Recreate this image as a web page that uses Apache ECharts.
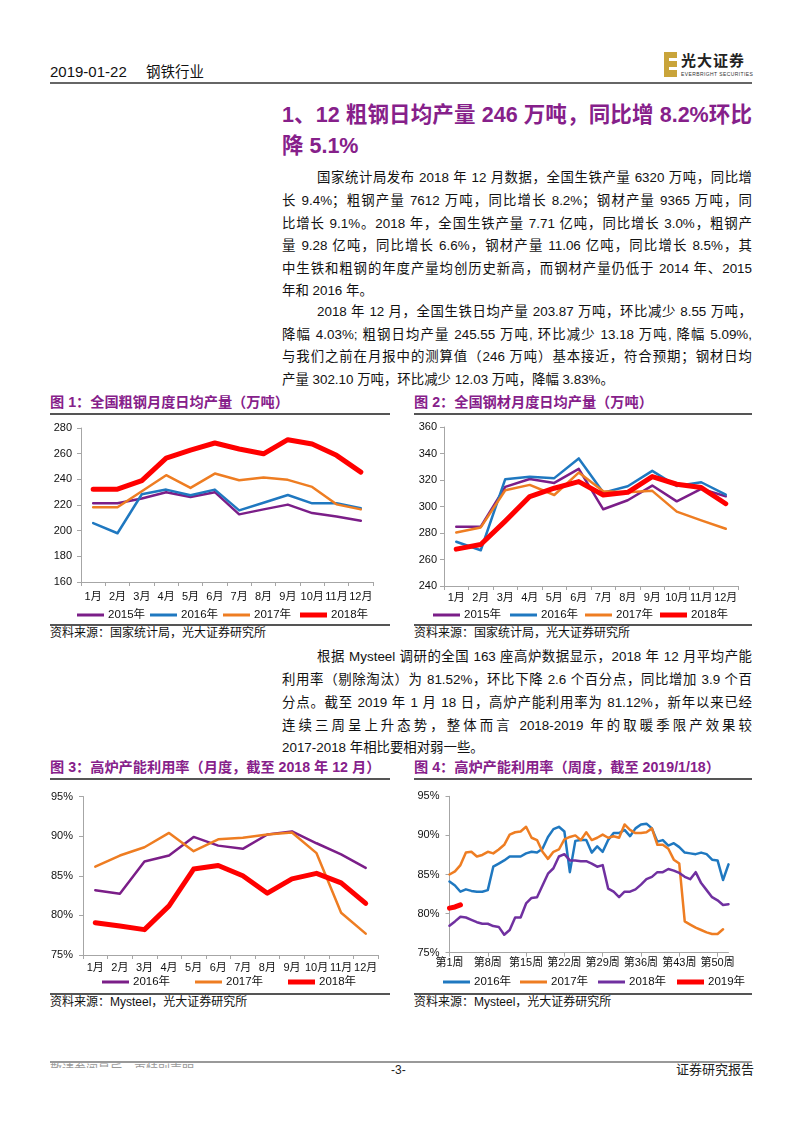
<!DOCTYPE html>
<html><head><meta charset="utf-8">
<script src="https://cdn.jsdelivr.net/npm/echarts@6/dist/echarts.min.js"></script>
<style>
html,body{margin:0;padding:0;background:#fff;}
body{width:802px;height:1133px;position:relative;overflow:hidden;font-family:"Liberation Sans","Noto Sans CJK SC",sans-serif;color:#111;}
.a{position:absolute;white-space:nowrap;}
.ln{position:absolute;font-size:13.4px;line-height:20px;height:20px;white-space:nowrap;overflow:visible;}
.j{text-align:justify;text-align-last:justify;}
.ft{position:absolute;font-size:14.2px;font-weight:bold;color:#86208A;line-height:18px;white-space:nowrap;}
.hr{position:absolute;background:#555;height:2px;}
.src{position:absolute;font-size:12px;line-height:16px;color:#111;white-space:nowrap;}
.ch{position:absolute;}
</style></head><body>

<!-- header -->
<div class="a" style="left:50px;top:63px;font-size:15px;line-height:18px;">2019-01-22</div>
<div class="a" style="left:146px;top:63px;font-size:14.5px;line-height:18px;">钢铁行业</div>
<div class="hr" style="left:50px;top:82px;width:702px;height:2px;background:#666;"></div>
<!-- logo -->
<div class="a" style="left:664px;top:52px;width:13px;height:25px;background:#C9A43A;"></div>
<div class="a" style="left:669px;top:58px;width:8px;height:3px;background:#fff;"></div>
<div class="a" style="left:669px;top:67px;width:8px;height:3px;background:#fff;"></div>
<div class="a" style="left:681px;top:52px;font-size:15px;line-height:18px;font-weight:bold;letter-spacing:1px;color:#222;">光大证券</div>
<div class="a" style="left:681px;top:71px;font-size:5px;line-height:6px;color:#333;letter-spacing:0.4px;">EVERBRIGHT SECURITIES</div>

<!-- section title -->
<div class="a j" style="left:282px;top:101px;width:470px;font-size:21.5px;line-height:28px;font-weight:bold;color:#86208A;">1、12 粗钢日均产量 246 万吨，同比增 8.2%环比</div>
<div class="a" style="left:282px;top:132px;font-size:21.5px;line-height:28px;font-weight:bold;color:#86208A;">降 5.1%</div>

<!-- paragraph 1 -->
<div class="ln j" style="left:317px;top:168px;width:435px;">国家统计局发布 2018 年 12 月数据，全国生铁产量 6320 万吨，同比增</div>
<div class="ln j" style="left:282px;top:191px;width:470px;">长 9.4%；粗钢产量 7612 万吨，同比增长 8.2%；钢材产量 9365 万吨，同</div>
<div class="ln j" style="left:282px;top:214px;width:470px;">比增长 9.1%。2018 年，全国生铁产量 7.71 亿吨，同比增长 3.0%，粗钢产</div>
<div class="ln j" style="left:282px;top:236px;width:470px;">量 9.28 亿吨，同比增长 6.6%，钢材产量 11.06 亿吨，同比增长 8.5%，其</div>
<div class="ln j" style="left:282px;top:259px;width:470px;">中生铁和粗钢的年度产量均创历史新高，而钢材产量仍低于 2014 年、2015</div>
<div class="ln" style="left:282px;top:281px;">年和 2016 年。</div>
<!-- paragraph 2 -->
<div class="ln j" style="left:317px;top:302px;width:435px;">2018 年 12 月，全国生铁日均产量 203.87 万吨，环比减少 8.55 万吨，</div>
<div class="ln j" style="left:282px;top:325px;width:470px;">降幅 4.03%; 粗钢日均产量 245.55 万吨, 环比减少 13.18 万吨, 降幅 5.09%,</div>
<div class="ln j" style="left:282px;top:347px;width:470px;">与我们之前在月报中的测算值（246 万吨）基本接近，符合预期；钢材日均</div>
<div class="ln" style="left:282px;top:370px;">产量 302.10 万吨，环比减少 12.03 万吨，降幅 3.83%。</div>

<!-- figure titles 1/2 -->
<div class="ft" style="left:50px;top:393px;">图 1：全国粗钢月度日均产量（万吨）</div>
<div class="ft" style="left:414px;top:393px;">图 2：全国钢材月度日均产量（万吨）</div>
<div class="hr" style="left:50px;top:413px;width:340px;"></div>
<div class="hr" style="left:414px;top:413px;width:338px;"></div>

<div id="c1" class="ch" style="left:40px;top:418px;width:350px;height:205px;"></div>
<div id="c2" class="ch" style="left:405px;top:418px;width:355px;height:205px;"></div>

<div class="hr" style="left:50px;top:624px;width:340px;"></div>
<div class="hr" style="left:414px;top:624px;width:338px;"></div>
<div class="src" style="left:50px;top:625px;">资料来源：国家统计局，光大证券研究所</div>
<div class="src" style="left:414px;top:625px;">资料来源：国家统计局，光大证券研究所</div>

<!-- paragraph 3 -->
<div class="ln j" style="left:317px;top:647px;width:435px;">根据 Mysteel 调研的全国 163 座高炉数据显示，2018 年 12 月平均产能</div>
<div class="ln j" style="left:282px;top:670px;width:470px;">利用率（剔除淘汰）为 81.52%，环比下降 2.6 个百分点，同比增加 3.9 个百</div>
<div class="ln j" style="left:282px;top:693px;width:470px;">分点。截至 2019 年 1 月 18 日，高炉产能利用率为 81.12%，新年以来已经</div>
<div class="ln j" style="left:282px;top:716px;width:470px;">连续三周呈上升态势，整体而言 2018-2019 年的取暖季限产效果较</div>
<div class="ln" style="left:282px;top:738px;">2017-2018 年相比要相对弱一些。</div>

<!-- figure titles 3/4 -->
<div class="ft" style="left:50px;top:758px;">图 3：高炉产能利用率（月度，截至 2018 年 12 月）</div>
<div class="ft" style="left:414px;top:758px;">图 4：高炉产能利用率（周度，截至 2019/1/18）</div>
<div class="hr" style="left:50px;top:778px;width:340px;"></div>
<div class="hr" style="left:414px;top:778px;width:338px;"></div>

<div id="c3" class="ch" style="left:40px;top:785px;width:350px;height:208px;"></div>
<div id="c4" class="ch" style="left:405px;top:785px;width:355px;height:208px;"></div>

<div class="hr" style="left:50px;top:993px;width:340px;"></div>
<div class="hr" style="left:414px;top:993px;width:338px;"></div>
<div class="src" style="left:50px;top:994px;">资料来源：Mysteel，光大证券研究所</div>
<div class="src" style="left:414px;top:994px;">资料来源：Mysteel，光大证券研究所</div>

<!-- footer -->
<div class="hr" style="left:50px;top:1061px;width:702px;height:1.5px;background:#999;"></div>
<div class="a" style="left:50px;top:1063px;height:5px;overflow:hidden;font-size:12px;line-height:14px;color:#999;">敬请参阅最后一页特别声明</div>
<div class="a" style="left:391px;top:1062px;font-size:12px;line-height:16px;color:#222;">-3-</div>
<div class="a" style="left:676px;top:1062px;font-size:13px;line-height:16px;color:#222;">证券研究报告</div>

<script>
// ---------------- data ----------------
var months = ['1月','2月','3月','4月','5月','6月','7月','8月','9月','10月','11月','12月'];

// 图1 全国粗钢月度日均产量（万吨）
var steel2015 = [221.3, 221.3, 225.0, 230.0, 226.3, 230.0, 212.7, 216.6, 220.3, 213.7, 211.0, 207.7];
var steel2016 = [205.9, 198.0, 228.4, 232.0, 227.6, 232.0, 215.8, 221.8, 227.8, 221.3, 221.3, 217.4];
var steel2017 = [218.2, 218.2, 230.7, 243.2, 233.3, 244.5, 239.3, 241.4, 239.6, 234.1, 220.5, 216.6];
var steel2018 = [232.3, 232.3, 239.0, 256.5, 262.8, 268.3, 263.6, 259.9, 270.9, 267.5, 258.7, 245.6];

// 图2 全国钢材月度日均产量（万吨）
var prod2015 = [284.7, 284.7, 314.8, 320.8, 317.8, 328.4, 297.9, 304.7, 315.8, 303.9, 313.3, 307.7];
var prod2016 = [273.4, 267.0, 320.6, 322.4, 321.4, 336.3, 310.5, 315.3, 326.9, 315.5, 318.3, 309.0];
var prod2017 = [280.4, 284.2, 312.3, 316.3, 308.7, 325.6, 311.5, 310.7, 311.8, 296.1, 289.5, 283.2];
var prod2018 = [267.8, 271.3, 289.0, 307.5, 313.8, 318.8, 308.7, 310.7, 322.6, 316.8, 314.3, 302.1];

// 图3 高炉产能利用率（月度, %）
var util2016 = [83.17, 82.74, 86.8, 87.55, 89.9, 88.8, 88.4, 90.2, 90.6, 89.1, 87.7, 86.0];
var util2017 = [86.15, 87.55, 88.6, 90.4, 88.1, 89.6, 89.8, 90.2, 90.45, 87.85, 80.34, 77.7];
var util2018 = [79.08, 78.65, 78.2, 81.2, 85.85, 86.3, 85.0, 82.8, 84.6, 85.3, 84.1, 81.52];

// 图4 高炉产能利用率（周度, %）
var weeks = [];
for (var i = 1; i <= 52; i++) weeks.push('第' + i + '周');
var wk2016 = [84.1, 83.6, 82.8, 83.1, 82.9, 82.8, 82.8, 83.0, 86.0, 86.4,
              86.8, 87.3, 87.3, 87.3, 87.7, 87.9, 87.8, 88.3, 89.8, 90.8,
              91.1, 90.5, 85.3, 89.3, 89.4, 89.4, 87.8, 88.6, 87.9, 89.4,
              90.3, 90.3, 90.7, 89.9, 90.9, 91.4, 91.5, 90.9, 89.2, 89.4,
              88.7, 89.0, 88.5, 87.8, 87.7, 87.6, 87.8, 87.6, 86.9, 86.8,
              84.3, 86.3];
var wk2017 = [85.0, 85.4, 86.2, 87.8, 87.9, 87.3, 87.5, 87.9, 87.7, 88.2,
              88.8, 90.1, 90.4, 90.5, 91.1, 89.7, 89.4, 87.9, 87.0, 87.9,
              88.2, 89.5, 89.8, 90.0, 89.4, 90.4, 89.4, 89.7, 90.1, 89.7,
              89.9, 89.7, 91.4, 90.7, 90.3, 90.3, 90.4, 90.9, 88.8, 88.8,
              88.3, 86.9, 86.4, 79.0, 78.6, 78.2, 77.9, 77.6, 77.4, 77.4,
              78.0];
var wk2018 = [78.45, 79.0, 79.6, 79.5, 79.2, 78.9, 78.7, 78.7, 78.4, 78.3,
              77.3, 77.9, 79.5, 79.5, 81.3, 82.0, 82.1, 83.6, 85.1, 85.8,
              87.3, 87.6, 86.8, 86.8, 86.7, 86.7, 86.4, 86.0, 86.2, 83.2,
              82.8, 82.1, 82.8, 82.8, 83.1, 83.7, 84.4, 84.7, 85.3, 85.3,
              85.7, 85.5, 85.2, 84.7, 84.4, 85.3, 83.9, 83.0, 82.1, 81.7,
              81.1, 81.2];
var wk2019 = [80.7, 80.85, 81.12];

// ---------------- styling helpers ----------------
var FONT = '"Liberation Sans","Noto Sans CJK SC",sans-serif';
var PURPLE = '#7B1E88', BLUE = '#1F78C0', ORANGE = '#EE7D22', RED = '#FF0000', VIOLET = '#7030A0';
var AXC = '#A6A6A6';

function line(name, data, color, width) {
  return { name: name, type: 'line', data: data, symbol: 'none', showSymbol: false,
           lineStyle: { color: color, width: width, cap: 'round', join: 'round' },
           itemStyle: { color: color }, emphasis: { disabled: true }, animation: false };
}
function leg(name, left, top, h) {
  return { data: [name], left: left, top: top, icon: 'rect', itemWidth: 27, itemHeight: h,
           itemGap: 0, padding: 0, selectedMode: false,
           textStyle: { fontFamily: FONT, fontSize: 11.5, color: '#111', lineHeight: 14, padding: [0, 0, 0, -1] } };
}
function xAx(cats, margin, opts) {
  var a = { type: 'category', data: cats, boundaryGap: true,
    axisLine: { lineStyle: { color: AXC, width: 1 } },
    axisTick: { show: true, length: 4, lineStyle: { color: AXC } },
    axisLabel: { fontFamily: FONT, fontSize: 11, color: '#111', margin: margin, interval: 0 },
    splitLine: { show: false } };
  for (var k in (opts || {})) a[k] = opts[k];
  return a;
}
function yAx(min, max, step, margin, pct) {
  return { type: 'value', min: min, max: max, interval: step,
    axisLine: { show: true, lineStyle: { color: AXC, width: 1 } },
    axisTick: { show: true, length: 4, lineStyle: { color: AXC } },
    axisLabel: { fontFamily: FONT, fontSize: 11, color: '#111', margin: margin,
                 formatter: pct ? '{value}%' : '{value}' },
    splitLine: { show: false } };
}

// 图1
var c1 = echarts.init(document.getElementById('c1'), null, { renderer: 'canvas' });
c1.setOption({
  animation: false,
  grid: { left: 41, top: 10, width: 292, height: 154 },
  xAxis: xAx(months, 9),
  yAxis: yAx(160, 280, 20, 9),
  legend: [leg('2015年', 37, 190, 3), leg('2016年', 110, 190, 3), leg('2017年', 183, 190, 3), leg('2018年', 260, 190, 5)],
  series: [line('2015年', steel2015, PURPLE, 2.5), line('2016年', steel2016, BLUE, 2.5),
           line('2017年', steel2017, ORANGE, 2.5), line('2018年', steel2018, RED, 5)]
});

// 图2
var c2 = echarts.init(document.getElementById('c2'), null, { renderer: 'canvas' });
c2.setOption({
  animation: false,
  grid: { left: 39, top: 9, width: 294, height: 159 },
  xAxis: xAx(months, 6),
  yAxis: yAx(240, 360, 20, 7),
  legend: [leg('2015年', 28, 190, 3), leg('2016年', 105, 190, 3), leg('2017年', 180, 190, 3), leg('2018年', 255, 190, 5)],
  series: [line('2015年', prod2015, PURPLE, 2.5), line('2016年', prod2016, BLUE, 2.5),
           line('2017年', prod2017, ORANGE, 2.5), line('2018年', prod2018, RED, 5)]
});

// 图3
var c3 = echarts.init(document.getElementById('c3'), null, { renderer: 'canvas' });
c3.setOption({
  animation: false,
  grid: { left: 43, top: 11.5, width: 295, height: 158.5 },
  xAxis: xAx(months, 7),
  yAxis: yAx(75, 95, 5, 10, true),
  legend: [leg('2016年', 62, 190, 3), leg('2017年', 155, 190, 3), leg('2018年', 248, 190, 5)],
  series: [line('2016年', util2016, PURPLE, 2.5), line('2017年', util2017, ORANGE, 2.5),
           line('2018年', util2018, RED, 5)]
});

// 图4
var c4 = echarts.init(document.getElementById('c4'), null, { renderer: 'canvas' });
c4.setOption({
  animation: false,
  grid: { left: 44.5, top: 11.3, width: 279, height: 156.4 },
  xAxis: xAx(weeks, 5, { boundaryGap: false,
    axisTick: { show: true, length: 4, interval: 6, lineStyle: { color: AXC } },
    axisLabel: { fontFamily: FONT, fontSize: 11, color: '#111', margin: 5, interval: 6 } }),
  yAxis: yAx(75, 95, 5, 10, true),
  legend: [leg('2016年', 38, 190, 3), leg('2017年', 115, 190, 3), leg('2018年', 193, 190, 3), leg('2019年', 272, 190, 5)],
  series: [line('2016年', wk2016, BLUE, 2.5), line('2017年', wk2017, ORANGE, 2.5),
           line('2018年', wk2018, VIOLET, 2.5), line('2019年', wk2019, RED, 5)]
});

// keep justified lines within their boxes
document.querySelectorAll('.j').forEach(function (el) {
  var ls = 0;
  while (el.scrollWidth > el.clientWidth + 0.5 && ls > -2) { ls -= 0.1; el.style.letterSpacing = ls + 'px'; }
});
</script>
</body></html>
